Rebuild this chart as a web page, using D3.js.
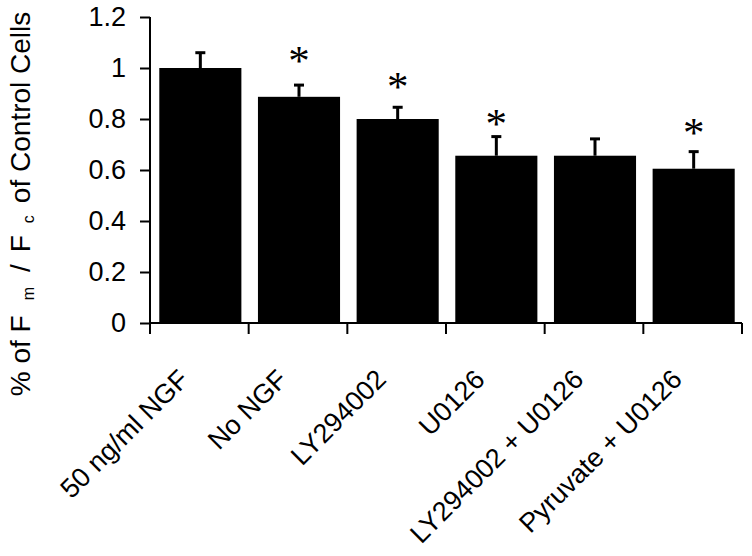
<!DOCTYPE html>
<html>
<head>
<meta charset="utf-8">
<script src="https://cdn.jsdelivr.net/npm/d3@7"></script>
<style>
  body { margin: 0; background: #fff; }
  svg { display: block; }
  text { font-family: "Liberation Sans", Arial, sans-serif; fill: #000; }
</style>
</head>
<body>
<svg width="752" height="556"></svg>
<script>
// values
let categories = ["50 ng/ml NGF", "No NGF", "LY294002", "U0126", "LY294002 + U0126", "Pyruvate + U0126"];
let means = [1.0, 0.887, 0.80, 0.656, 0.656, 0.605];
let errors = [0.06, 0.046, 0.046, 0.075, 0.066, 0.067];
let stars = [null, 1.051, 0.949, 0.804, null, 0.769];   // level of the * mark, null = no mark
let yTicks = [0, 0.2, 0.4, 0.6, 0.8, 1, 1.2];

let svg = d3.select('svg');
let margin = { top: 17, right: 10, bottom: 233, left: 150 };
let width = +svg.attr('width');
let height = +svg.attr('height');

let x = d3.scaleBand()
    .domain(categories)
    .range([margin.left, width - margin.right])
    .paddingInner(0.168)
    .paddingOuter(0.084);

let y = d3.scaleLinear()
    .domain([0, 1.2])
    .range([height - margin.bottom, margin.top]);

let mid = d => x(d) + x.bandwidth() / 2 + 1;

// bars
svg.append('g')
    .selectAll('rect')
    .data(categories)
    .join('rect')
        .attr('x', d => x(d) + 1)
        .attr('y', (d, i) => y(means[i]))
        .attr('width', x.bandwidth())
        .attr('height', (d, i) => y(0) - y(means[i]))
        .attr('fill', '#000');

// error bars (upper only)
let eb = svg.append('g')
    .attr('stroke', '#000')
    .attr('stroke-width', 3);
eb.selectAll('line.v')
    .data(categories)
    .join('line')
        .attr('class', 'v')
        .attr('x1', mid)
        .attr('x2', mid)
        .attr('y1', (d, i) => y(means[i]))
        .attr('y2', (d, i) => y(means[i] + errors[i]));
eb.selectAll('line.cap')
    .data(categories)
    .join('line')
        .attr('class', 'cap')
        .attr('x1', d => mid(d) - 5)
        .attr('x2', d => mid(d) + 5)
        .attr('y1', (d, i) => y(means[i] + errors[i]))
        .attr('y2', (d, i) => y(means[i] + errors[i]));

// significance marks
svg.append('g')
    .selectAll('text')
    .data(categories.filter((d, i) => stars[i] != null))
    .join('text')
        .attr('x', mid)
        .attr('y', d => y(stars[categories.indexOf(d)]) + 20)
        .attr('text-anchor', 'middle')
        .style('font-family', '"Liberation Serif", "Times New Roman", serif')
        .style('font-size', '43px')
        .text('*');

// y axis
let yAxis = svg.append('g')
    .attr('transform', `translate(${margin.left},0)`)
    .call(d3.axisLeft(y).tickValues(yTicks).tickFormat(d3.format('')).tickSize(10).tickPadding(14));
yAxis.select('.domain').attr('stroke-width', 2).attr('d', `M-0,${y(1.2)}V${y(0)}`);
yAxis.selectAll('.tick line').attr('stroke-width', 2);
yAxis.selectAll('.tick text')
    .style('font-family', '"Liberation Sans", Arial, sans-serif')
    .style('font-size', '27px');

// x axis: ticks between categories
let xAxisG = svg.append('g')
    .attr('transform', `translate(0,${y(0)})`);
xAxisG.append('line')
    .attr('x1', margin.left).attr('x2', width - margin.right)
    .attr('stroke', '#000').attr('stroke-width', 2);
let bounds = categories.map(d => x(d) - x.step() * x.paddingInner() / 2);
bounds.push(width - margin.right);
xAxisG.selectAll('line.tk')
    .data(bounds)
    .join('line')
        .attr('class', 'tk')
        .attr('x1', d => d).attr('x2', d => d)
        .attr('y1', 0).attr('y2', 11)
        .attr('stroke', '#000').attr('stroke-width', 2);

xAxisG.selectAll('text')
    .data(categories)
    .join('text')
        .attr('transform', d => `translate(${mid(d) - 10},${58}) rotate(-45)`)
        .attr('text-anchor', 'end')
        .style('font-size', '27px')
        .text(d => d);

// y title with subscripts
let title = svg.append('text')
    .attr('transform', `translate(30,${204}) rotate(-90)`)
    .attr('text-anchor', 'middle')
    .style('font-size', '28px');
title.append('tspan').text('% of F');
title.append('tspan').attr('dx', 15).attr('dy', 4).style('font-size', '16px').text('m');
title.append('tspan').attr('dx', 15).attr('dy', -4).text('/');
title.append('tspan').attr('dx', 12).text('F');
title.append('tspan').attr('dx', 12).attr('dy', 4).style('font-size', '16px').text('c');
title.append('tspan').attr('dx', 12).attr('dy', -4).text('of Control Cells');
</script>
</body>
</html>
